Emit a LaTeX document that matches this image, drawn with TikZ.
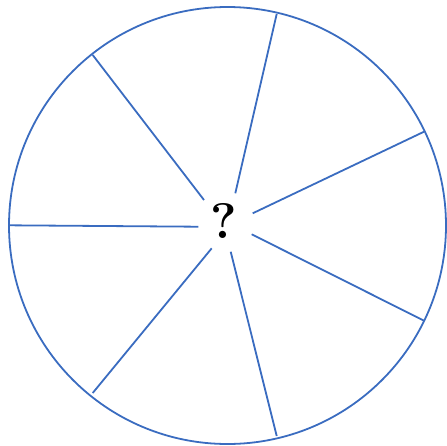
\documentclass[tikz,border=0pt]{standalone}
\begin{document}
\definecolor{spoke}{RGB}{58,108,192}
\begin{tikzpicture}[x=1pt,y=-1pt,
  rim/.style={draw=spoke,line width=1.8pt},
  spk/.style={draw=spoke,line width=1.8pt}]
\useasboundingbox (0,0) rectangle (447,445);
\node[rim,circle,minimum size=437pt,inner sep=0pt] (c) at (227.5,225.5) {};
\node (q) at (224,221) {\fontsize{50}{50}\selectfont\bfseries ?};
% outer ends
\coordinate (o1) at (92.7,55);
\coordinate (o2) at (276.7,14);
\coordinate (o3) at (424,131.7);
\coordinate (o4) at (424,320.7);
\coordinate (o5) at (276.7,436);
\coordinate (o6) at (92.7,393);
\coordinate (o7) at (9,225.3);
% inner ends
\coordinate (i1) at (204,200);
\coordinate (i2) at (235.3,193.3);
\coordinate (i3) at (252.7,213.3);
\coordinate (i4) at (251.7,234.3);
\coordinate (i5) at (230.7,251.7);
\coordinate (i6) at (211.7,248.3);
\coordinate (i7) at (198.3,226.7);
\foreach \k in {1,...,7} {\draw[spk] (i\k) -- (o\k);}
\end{tikzpicture}
\end{document}
